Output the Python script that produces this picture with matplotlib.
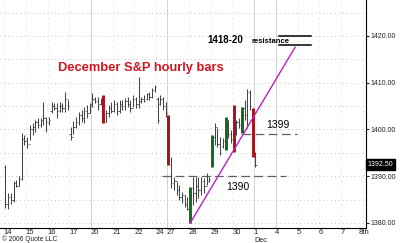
import numpy as np
import matplotlib
matplotlib.use("Agg")
import matplotlib.pyplot as plt

plt.rcParams['font.family'] = ['Liberation Sans', 'DejaVu Sans']

# ****Hourly bars (Nov 14 - Dec 1, 2006)****
highs = [1392.4, 1386.4, 1386.4, 1389.0, 1389.2, 1390.1, 1399.3, 1398.8,
         1398.4, 1401.0, 1401.4, 1402.0, 1402.5, 1402.5, 1405.9, 1402.7,
         1402.7, 1405.9, 1405.7, 1405.7, 1405.9, 1405.7, 1408.0, 1406.3,
         1400.5, 1401.8, 1402.7, 1403.7, 1404.2, 1404.8, 1405.2, 1405.7,
         1407.8, 1407.0, 1407.0, 1406.7, 1407.4, 1404.2, 1405.2, 1405.9,
         1406.3, 1405.9, 1406.3, 1406.3, 1406.7, 1407.0, 1406.3, 1407.4,
         1407.0, 1411.2, 1407.0, 1407.4, 1407.8, 1408.0, 1408.9, 1409.5,
         1407.0, 1407.4, 1407.0, 1405.9,
         1403.1, 1394.1, 1389.8, 1388.8, 1388.1, 1386.6, 1386.0, 1385.6,
         1387.7, 1389.8, 1389.8, 1389.8, 1389.8, 1389.6, 1390.7, 1389.8,
         1398.8, 1401.4, 1400.3, 1398.4, 1398.2, 1402.7, 1402.0, 1399.9,
         1405.2, 1402.0, 1402.5, 1404.8, 1406.3, 1408.7, 1408.4, 1404.6,
         1395.2]
lows = [1383.2, 1383.0, 1384.1, 1384.5, 1387.7, 1387.9, 1389.2, 1396.7,
        1396.0, 1397.8, 1398.8, 1399.5, 1400.3, 1400.5, 1401.0, 1399.5,
        1401.0, 1403.5, 1404.2, 1402.5, 1403.7, 1403.7, 1403.7, 1404.2,
        1397.8, 1399.0, 1400.3, 1401.0, 1401.6, 1401.4, 1402.5, 1403.5,
        1404.8, 1405.7, 1404.2, 1405.2, 1401.4, 1401.6, 1402.7, 1403.5,
        1403.7, 1403.1, 1403.5, 1404.2, 1404.2, 1404.8, 1403.7, 1404.8,
        1404.6, 1404.6, 1405.7, 1405.9, 1406.3, 1406.3, 1406.7, 1408.0,
        1401.4, 1405.2, 1404.2, 1402.7,
        1392.4, 1387.5, 1387.1, 1386.0, 1384.9, 1384.3, 1383.4, 1382.8,
        1380.0, 1383.9, 1384.5, 1385.3, 1386.0, 1386.4, 1388.1, 1388.8,
        1392.0, 1396.7, 1396.3, 1394.5, 1396.0, 1395.6, 1398.2, 1397.1,
        1395.2, 1398.8, 1400.3, 1399.3, 1402.0, 1400.3, 1404.2, 1394.1,
        1392.0]
opens = [1392.0, 1384.0, 1385.5, 1385.0, 1388.5, 1388.0, 1389.5, 1398.0,
         1397.5, 1397.0, 1400.0, 1400.5, 1401.5, 1401.0, 1402.0, 1402.5,
         1401.5, 1404.0, 1405.0, 1404.5, 1404.0, 1405.0, 1404.5, 1406.5,
         1399.0, 1398.5, 1400.5, 1401.5, 1403.0, 1402.5, 1404.0, 1403.5,
         1405.5, 1406.5, 1406.0, 1405.5, 1407.0, 1401.5, 1403.5, 1404.5,
         1404.0, 1405.5, 1404.0, 1405.5, 1405.0, 1406.0, 1405.5, 1404.5,
         1406.5, 1405.5, 1406.0, 1406.5, 1406.5, 1407.5, 1407.0, 1408.5,
         1406.5, 1405.5, 1406.5, 1405.0,
         1403.0, 1392.5, 1388.5, 1389.0, 1387.0, 1385.5, 1386.0, 1384.0,
         1380.0, 1387.5, 1386.5, 1388.0, 1387.0, 1389.0, 1388.0, 1389.0,
         1392.0, 1398.5, 1400.5, 1397.0, 1396.5, 1395.6, 1402.0, 1399.0,
         1405.0, 1399.0, 1401.5, 1399.5, 1404.5, 1403.0, 1408.0, 1404.5,
         1394.5]
closes = [1384.0, 1385.5, 1385.0, 1388.5, 1388.0, 1389.5, 1398.0, 1397.5,
          1397.0, 1400.0, 1400.5, 1401.5, 1401.0, 1402.0, 1402.5, 1401.5,
          1402.0, 1405.0, 1404.5, 1404.0, 1405.0, 1404.5, 1406.5, 1405.0,
          1398.5, 1400.5, 1401.5, 1403.0, 1402.5, 1404.0, 1403.5, 1405.0,
          1406.5, 1406.0, 1405.0, 1406.0, 1401.5, 1403.5, 1404.5, 1404.0,
          1405.5, 1404.0, 1405.5, 1405.0, 1406.0, 1405.5, 1404.5, 1406.5,
          1405.5, 1406.0, 1406.5, 1406.0, 1407.5, 1407.0, 1408.5, 1409.0,
          1402.0, 1406.5, 1405.0, 1403.5,
          1392.5, 1388.5, 1389.0, 1387.0, 1385.5, 1386.0, 1384.0, 1383.0,
          1387.5, 1386.5, 1388.0, 1387.0, 1389.0, 1388.0, 1390.0, 1389.5,
          1398.5, 1400.5, 1397.0, 1395.0, 1397.5, 1402.5, 1399.0, 1398.0,
          1395.5, 1401.5, 1401.0, 1404.5, 1403.0, 1408.0, 1405.0, 1394.5,
          1392.5]
# k = plain bar, r = red down bar, g = green up bar
bar_colors = ("kkkkkkkk" "kkkkkkkk" "kkkkkkkk" "kkkkkkkk"
              "kkkkrkkk" "kkkkkkkk" "kkkkkkkk" "kkkk"
              "rkkkkkkk" "gkkkkkkk" "gkkkkgkk" "rkkgkkkr" "k")

day_labels = ['14', '15', '16', '17', '20', '21', '22', '24', '27', '28',
              '29', '30', '1', '4', '5', '6', '7', '8th']
bars_per_day = [8, 8, 8, 8, 8, 8, 8, 4, 8, 8, 8, 8, 8, 8, 8, 8, 8, 8]
week_starts = ['20', '27', '1', '4']

last_price = 1392.50
support_1390 = 1390
support_1399 = 1399
resistance = [1418, 1420]
trend_start = (68, 1380.0)
trend_end = (106.6, 1417.6)

# ****Figure****
fig = plt.figure(figsize=(4, 2.43), dpi=100)
ax = fig.add_axes([0, 15 / 243, 366 / 400, 228 / 243])
ax.set_xlim(-2.0, 132.7)
ax.set_ylim(1378.93, 1427.7)

# grid
for p in np.arange(1380, 1430, 5):
    ax.axhline(p, color='#c4c4c4', lw=0.7, ls=(0, (1, 3)), zorder=0)
starts = np.concatenate([[0], np.cumsum(bars_per_day)[:-1]])
for lab, s in zip(day_labels, starts):
    if lab in week_starts:
        ax.axvline(s - 0.5, color='#d2d2d2', lw=0.7, zorder=0)
    else:
        ax.axvline(s - 0.5, color='#cccccc', lw=0.6, ls=(0, (1, 6)), zorder=0)

# bars
idx = np.arange(len(highs))
cmap = {'k': '#444444', 'r': '#a8101a', 'g': '#14681c'}
for i in idx:
    c = bar_colors[i]
    if c == 'k':
        ax.vlines(i, lows[i], highs[i], color=cmap[c], lw=0.75, zorder=3)
        ax.hlines(opens[i], i - 0.45, i, color=cmap[c], lw=0.6, zorder=3)
        ax.hlines(closes[i], i, i + 0.45, color=cmap[c], lw=0.6, zorder=3)
    else:
        ax.vlines(i, lows[i], highs[i], color=cmap[c], lw=2.1, zorder=4)

# support / resistance lines
ax.plot([57.6, 103.2], [support_1390] * 2, color='#606060', lw=0.9,
        ls=(0, (7, 3.5)), zorder=2)
ax.plot([87.1, 107.3], [support_1399] * 2, color='#606060', lw=0.9,
        ls=(0, (7, 3.5)), zorder=2)
for r in resistance:
    ax.plot([100.7, 112.5], [r, r], color='black', lw=1.1, zorder=5)
ax.plot([trend_start[0], trend_end[0]], [trend_start[1], trend_end[1]],
        color='#c21fc4', lw=1.0, zorder=6)

# annotations
ax.text(49.7, 1412.5, 'December S&P hourly bars', color='#d4141e',
        fontsize=9.3, fontweight='bold', ha='center', va='baseline')
ax.text(81.0, 1418.5, '1418-20', fontsize=7, fontweight='bold',
        ha='center', va='baseline')
ax.text(97.7, 1418.6, 'resistance', fontsize=5.5, fontweight='bold',
        ha='center', va='baseline', zorder=6)
ax.text(100.3, 1400.4, '1399', fontsize=7.5, ha='center', va='baseline')
ax.text(85.4, 1387.1, '1390', fontsize=7.5, ha='center', va='baseline')

# axes styling
for side in ['left', 'top']:
    ax.spines[side].set_visible(False)
ax.spines['right'].set_linewidth(0.8)
ax.spines['bottom'].set_linewidth(0.8)
ax.yaxis.tick_right()
ax.set_yticks([1380, 1390, 1400, 1410, 1420])
ax.set_yticklabels(['%.2f' % v for v in [1380, 1390, 1400, 1410, 1420]])
ax.tick_params(axis='y', labelsize=5, length=2, pad=1, colors='#222222')

tick_pos = [s + (1 if k < 12 else 0) for k, s in enumerate(starts)]
ax.set_xticks(tick_pos)
ax.set_xticklabels(day_labels)
ax.tick_params(axis='x', labelsize=5.5, length=0, pad=1, colors='#222222')

ax.annotate('1392.50', xy=(1.004, last_price),
            xycoords=('axes fraction', 'data'), ha='left', va='center',
            fontsize=5, color='white',
            bbox=dict(boxstyle='square,pad=0.25', fc='black', ec='black'))

ax.text(91.5, -0.038, 'Dec', transform=ax.get_xaxis_transform(),
        fontsize=5.2, ha='left', va='top', color='#222222')
fig.text(0.004, 0.0, '\u00a9 2006 Quote LLC', fontsize=4.8,
         ha='left', va='bottom', color='#222222')

fig.savefig('out.png', dpi=100)
